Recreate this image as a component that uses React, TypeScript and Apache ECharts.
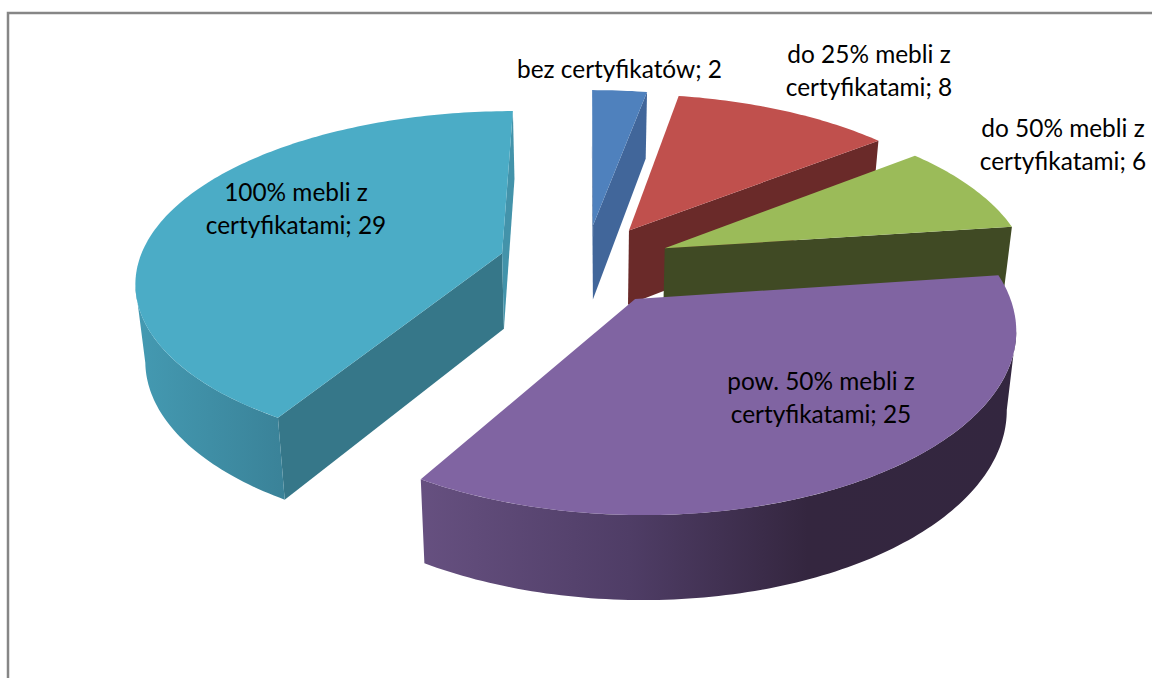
import React, { useEffect, useRef } from "react";
import * as echarts from "echarts";

const sliceNames = [
  "bez certyfikatów",
  "do 25% mebli z\ncertyfikatami",
  "do 50% mebli z\ncertyfikatami",
  "pow. 50% mebli z\ncertyfikatami",
  "100% mebli z\ncertyfikatami",
];
const sliceValues = [2, 8, 6, 25, 29];
const topColors = ["#4f81bd", "#c0504d", "#9bbb59", "#8064a2", "#4bacc6"];
const startFaceColors = ["#41669a", "#6a2a29", "#404a24", "#33263f", "#367789"];
const endFaceColors = ["#41669a", "#6a2a29", "#404a24", "#5f4a7a", "#4393aa"];
const sideStops = [
  [[0, "#41669a"], [1, "#41669a"]],
  [[0, "#6a2a29"], [1, "#6a2a29"]],
  [[0, "#404a24"], [1, "#404a24"]],
  [[0, "#665080"], [0.35, "#4f3d66"], [0.65, "#34263f"], [1, "#33263f"]],
  [[0, "#449ab2"], [1, "#3a8298"]],
];
const labelCenters = [
  [619.5, 68],
  [869, 70],
  [1063, 144],
  [821, 397],
  [296, 208],
];

// projection of the exploded pie
const CX = 585.5, CY = 264, F = 364, G = 168.5, P = 0.162, PX = 0.15, EXPLODE = 0.24;
const LINE_H = 33;

function project(X: number, Y: number, drop: boolean): number[] {
  let x = (X * F) / (1 - PX * Y);
  let y = CY + (Y * G) / (1 - P * Y);
  if (drop) {
    x *= 0.978;
    y += 76 + 7.5 * Y;
  }
  return [CX + x, y];
}

const total = sliceValues.reduce((a, b) => a + b, 0);
const rad = (deg: number) => (deg * Math.PI) / 180;

function renderSlice(params: any) {
  const i = params.dataIndex;
  const before = sliceValues.slice(0, i).reduce((a, b) => a + b, 0);
  const a0 = (before / total) * 360;
  const a1 = ((before + sliceValues[i]) / total) * 360;
  const mid = (a0 + a1) / 2;
  const ox = Math.sin(rad(mid)) * EXPLODE;
  const oy = -Math.cos(rad(mid)) * EXPLODE;
  const rim = (a: number, drop: boolean) =>
    project(ox + Math.sin(rad(a)), oy - Math.cos(rad(a)), drop);
  const apex = project(ox, oy, false);
  const apexB = project(ox, oy, true);

  const arc: number[][] = [];
  const steps = Math.ceil(a1 - a0);
  for (let k = 0; k <= steps; k++) arc.push(rim(a0 + ((a1 - a0) * k) / steps, false));
  const inner = rim(mid, false);
  const interior = [(apex[0] + inner[0]) / 2, (apex[1] + inner[1]) / 2];

  const children: any[] = [];
  const radialFace = (a: number, fill: string) => {
    const p = rim(a, false);
    const ex = p[0] - apex[0];
    const ey = p[1] - apex[1];
    const side = ex * (interior[1] - apex[1]) - ey * (interior[0] - apex[0]);
    if (ex * side < 0) {
      children.push({
        type: "polygon",
        shape: { points: [apex, p, rim(a, true), apexB] },
        style: { fill },
      });
    }
  };
  radialFace(a0, startFaceColors[i]);
  radialFace(a1, endFaceColors[i]);

  // the outer wall runs between the rim's rightmost and leftmost points
  let rightmost = 90;
  let leftmost = 270;
  for (let a = 60; a <= 300; a++) {
    const x = rim(a, false)[0];
    if (x > rim(rightmost, false)[0]) rightmost = a;
    if (x < rim(leftmost, false)[0]) leftmost = a;
  }
  const from = Math.max(a0, rightmost);
  const to = Math.min(a1, leftmost);
  if (to > from) {
    const topEdge: number[][] = [];
    const bottomEdge: number[][] = [];
    const n = Math.ceil(to - from);
    for (let k = 0; k <= n; k++) {
      const a = from + ((to - from) * k) / n;
      topEdge.push(rim(a, false));
      bottomEdge.unshift(rim(a, true));
    }
    const stops = sideStops[i].map(([offset, color]) => ({ offset, color }));
    children.push({
      type: "polygon",
      shape: { points: topEdge.concat(bottomEdge) },
      style: { fill: new echarts.graphic.LinearGradient(0, 0, 1, 0, stops) },
    });
  }

  children.push({
    type: "polygon",
    shape: { points: [apex, ...arc] },
    style: { fill: topColors[i] },
  });
  return { type: "group", children };
}

function labelText(i: number) {
  return `${sliceNames[i]}; ${sliceValues[i]}`;
}

export default function App() {
  const ref = useRef<HTMLDivElement>(null);
  useEffect(() => {
    document.body.style.margin = "0";
    const chart = echarts.init(ref.current!, undefined, { renderer: "svg" });
    chart.setOption({
      animation: false,
      backgroundColor: "#ffffff",
      series: [
        {
          type: "custom",
          coordinateSystem: "none",
          silent: true,
          data: sliceValues.map((value, i) => ({ name: sliceNames[i], value })),
          renderItem: renderSlice,
        },
      ],
      graphic: [
        {
          type: "polyline",
          shape: { points: [[8, 678], [8, 13], [1152, 13]] },
          style: { stroke: "#868686", lineWidth: 2.5, fill: "none" },
          z: 1,
        },
        ...sliceValues.map((_, i) => ({
          type: "text",
          x: labelCenters[i][0],
          y: labelCenters[i][1],
          z: 10,
          style: {
            text: labelText(i),
            fontFamily: "Lato",
            fontSize: 24.4,
            lineHeight: LINE_H,
            fill: "#000000",
            align: "center",
            verticalAlign: "middle",
          },
        })),
      ],
    });
    return () => chart.dispose();
  }, []);
  return <div ref={ref} style={{ width: 1152, height: 678 }} />;
}
